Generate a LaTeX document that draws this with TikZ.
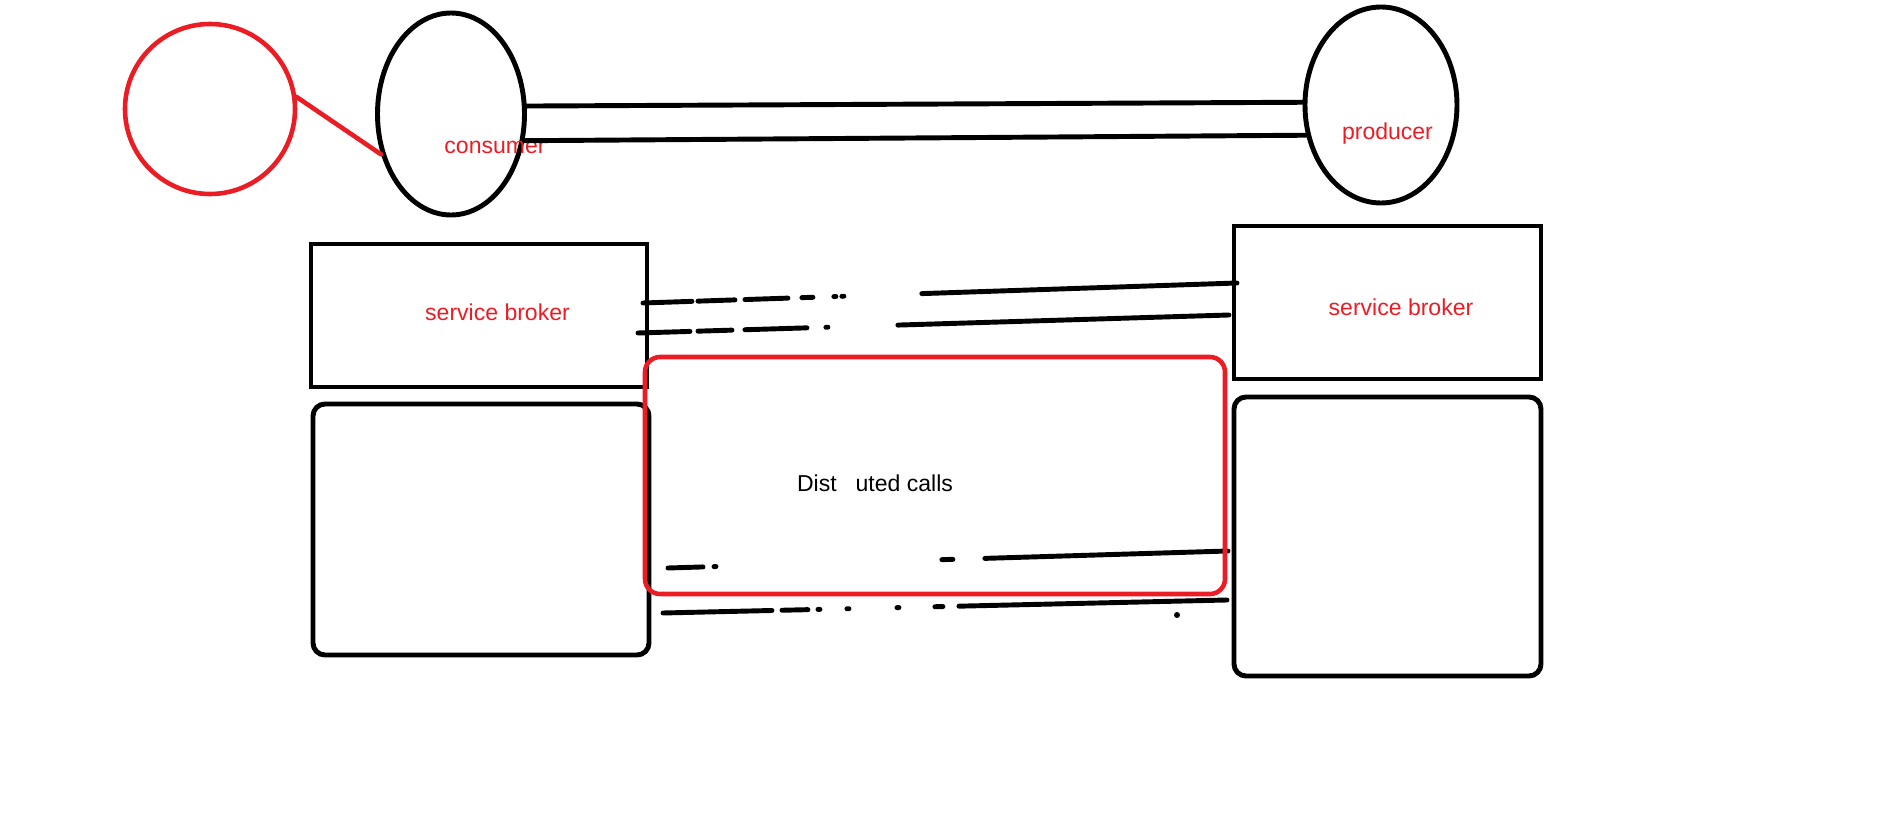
\documentclass[tikz,border=0pt]{standalone}
\usepackage{fontspec}
\setmainfont{Liberation Sans}
\usetikzlibrary{shapes.geometric}

\definecolor{pRed}{HTML}{EC1C24}
\definecolor{pBlack}{HTML}{000000}

\begin{document}
\begin{tikzpicture}[font=\fontsize{6.55pt}{8pt}\selectfont,
  blk/.style={draw=pBlack,line width=1.4pt,inner sep=0pt},
  redln/.style={draw=pRed,line width=1.3pt,inner sep=0pt},
  lbl/.style={text=pRed,inner sep=0pt},
  wire/.style={pBlack,line width=1.4pt,line cap=round}]
  \useasboundingbox (0,0) rectangle (19.01,8.22);

  % ---- user, consumer, producer ----
  \node[redln,circle,minimum size=1.70cm]                     (user) at (2.10,7.13)  {};
  \node[blk,ellipse,minimum width=1.47cm,minimum height=2.02cm] (cons) at (4.51,7.08)  {};
  \node[blk,ellipse,minimum width=1.52cm,minimum height=1.96cm] (prod) at (13.81,7.17) {};
  \node[lbl] (consLbl) at (4.95,6.75)   {consumer};
  \node[lbl] (prodLbl) at (13.875,6.88) {producer};

  \draw[redln,line cap=round] (user.8) -- (cons.210);
  \draw[wire] (cons.6)   -- (prod.178);
  \draw[wire] (cons.340) -- (prod.202);

  % ---- service brokers ----
  \node[blk,minimum width=3.36cm,minimum height=1.43cm] (lBroker) at (4.79,5.065)   {};
  \node[blk,minimum width=3.07cm,minimum height=1.53cm] (rBroker) at (13.875,5.195) {};
  \node[lbl] (lBrokerLbl) at (4.975,5.10) {service broker};
  \node[lbl] (rBrokerLbl) at (14.01,5.15) {service broker};

  % ---- lower boxes ----
  \node[blk,rounded corners=0.12cm,minimum width=3.36cm,minimum height=2.51cm] (lBox) at (4.81,2.925)   {};
  \node[blk,rounded corners=0.12cm,minimum width=3.07cm,minimum height=2.79cm] (rBox) at (13.875,2.855) {};

  % ---- half rubbed-out links ----
  \coordinate (l1a) at (6.43,5.19);  \coordinate (l1b) at (12.37,5.39);
  \coordinate (l2a) at (6.38,4.89);  \coordinate (l2b) at (12.29,5.07);
  \coordinate (l3a) at (6.68,2.54);  \coordinate (l3b) at (12.28,2.71);
  \coordinate (l4a) at (6.63,2.09);  \coordinate (l4b) at (12.27,2.22);

  \draw[wire,dash pattern=on 0.49cm off 0.06cm on 0.37cm off 0.10cm on 0.43cm off 0.14cm
        on 0.11cm off 0.21cm on 0.02cm off 0.06cm on 0.02cm off 0.78cm on 8cm] (l1a) -- (l1b);
  \draw[wire,dash pattern=on 0.52cm off 0.08cm on 0.34cm off 0.13cm on 0.62cm off 0.19cm
        on 0.02cm off 0.70cm on 8cm] (l2a) -- (l2b);
  \draw[wire,dash pattern=on 0.35cm off 0.11cm on 0.02cm off 2.26cm on 0.11cm off 0.32cm
        on 8cm] (l3a) -- (l3b);
  \draw[wire,dash pattern=on 1.09cm off 0.10cm on 0.26cm off 0.10cm on 0.02cm off 0.27cm
        on 0.02cm off 0.48cm on 0.02cm off 0.36cm on 0.08cm off 0.16cm on 8cm] (l4a) -- (l4b);
  \fill[pBlack] (11.77,2.07) circle (0.03);

  % ---- distributed calls ----
  \node[redln,rounded corners=0.15cm,minimum width=5.80cm,minimum height=2.37cm] (calls) at (9.35,3.465) {};
  \node[inner sep=0pt] (callsLbl) at (8.75,3.385) {Dist\hspace{0.19cm}uted calls};
\end{tikzpicture}
\end{document}
